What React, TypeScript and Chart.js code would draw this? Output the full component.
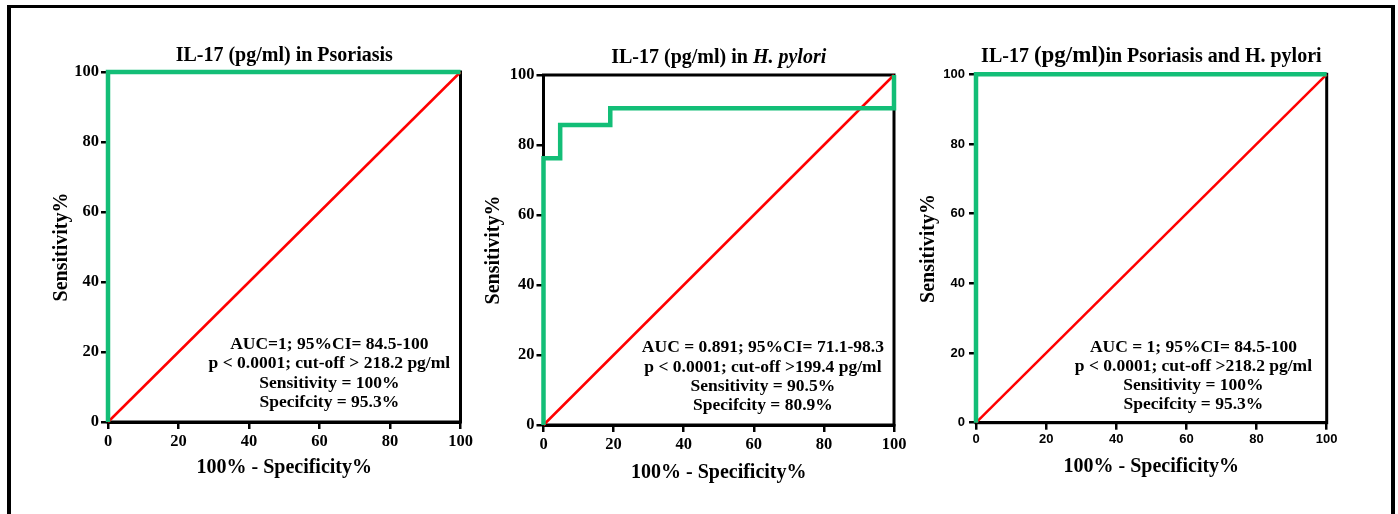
import React, { useEffect, useRef } from "react";
import { Chart, registerables } from "chart.js";

Chart.register(...registerables);

// ---------- data ----------
const AXIS_TICKS = [0, 20, 40, 60, 80, 100];
const CHANCE_X = [0, 100];
const CHANCE_Y = [0, 100];

const PSO_FPR = [0, 0, 100];
const PSO_TPR = [0, 100, 100];

const HP_FPR = [0, 0, 4.76, 4.76, 19.05, 19.05, 100, 100];
const HP_TPR = [0, 76.19, 76.19, 85.71, 85.71, 90.48, 90.48, 100];

const BOTH_FPR = [0, 0, 100];
const BOTH_TPR = [0, 100, 100];

const PSO_STATS = [
  "AUC=1; 95%CI= 84.5-100",
  "p < 0.0001; cut-off > 218.2 pg/ml",
  "Sensitivity = 100%",
  "Specifcity = 95.3%",
];
const HP_STATS = [
  "AUC = 0.891; 95%CI= 71.1-98.3",
  "p < 0.0001; cut-off >199.4 pg/ml",
  "Sensitivity = 90.5%",
  "Specifcity = 80.9%",
];
const BOTH_STATS = [
  "AUC = 1; 95%CI= 84.5-100",
  "p < 0.0001; cut-off >218.2 pg/ml",
  "Sensitivity = 100%",
  "Specifcity = 95.3%",
];

const X_TITLE = "100% - Specificity%";
const Y_TITLE = "Sensitivity%";

const PSO_TITLE = [{ text: "IL-17 (pg/ml) in Psoriasis" }];
const HP_TITLE = [{ text: "IL-17 (pg/ml) in " }, { text: "H. pylori", italic: true }];
const BOTH_TITLE = [
  { text: "IL-17 " },
  { text: "(pg/ml)", size: 23 },
  { text: "in Psoriasis and H. pylori" },
];

// ---------- styles ----------
const SERIF = "'Liberation Serif', 'Times New Roman', serif";
const SANS = "'Liberation Sans', Arial, sans-serif";
const GREEN = "#13BE77";
const RED = "#FF0000";

type Seg = { text: string; italic?: boolean; size?: number };
type Panel = {
  key: string;
  fpr: number[];
  tpr: number[];
  stats: string[];
  title: Seg[];
  canvas: { left: number; top: number; width: number; height: number };
  area: { left: number; top: number; right: number; bottom: number };
  yTitleX: number;
  xTitleY: number;
  tickFamily: string;
  tickSize: number;
  yTickPad: number;
  xTickPad: number;
  statsX: number;
  statsGap: number;
  titleGap: number;
};

const PANELS: Panel[] = [
  {
    key: "pso",
    fpr: PSO_FPR,
    tpr: PSO_TPR,
    stats: PSO_STATS,
    title: PSO_TITLE,
    canvas: { left: 10, top: 20, width: 480, height: 482 },
    area: { left: 108, top: 72, right: 460.5, bottom: 422 },
    yTitleX: 61.7,
    xTitleY: 468,
    tickFamily: SERIF,
    tickSize: 16.5,
    yTickPad: 2,
    xTickPad: 3,
    statsX: 62.8,
    statsGap: 15.3,
    titleGap: 11,
  },
  {
    key: "hp",
    fpr: HP_FPR,
    tpr: HP_TPR,
    stats: HP_STATS,
    title: HP_TITLE,
    canvas: { left: 455, top: 20, width: 460, height: 482 },
    area: { left: 543.5, top: 75, right: 894, bottom: 425 },
    yTitleX: 494,
    xTitleY: 472.5,
    tickFamily: SERIF,
    tickSize: 16.5,
    yTickPad: 2,
    xTickPad: 3,
    statsX: 62.6,
    statsGap: 15,
    titleGap: 12,
  },
  {
    key: "both",
    fpr: BOTH_FPR,
    tpr: BOTH_TPR,
    stats: BOTH_STATS,
    title: BOTH_TITLE,
    canvas: { left: 890, top: 20, width: 460, height: 482 },
    area: { left: 976, top: 74.3, right: 1326.7, bottom: 422.7 },
    yTitleX: 929,
    xTitleY: 466.5,
    tickFamily: SANS,
    tickSize: 13,
    yTickPad: 4,
    xTickPad: 2,
    statsX: 62.0,
    statsGap: 13.4,
    titleGap: 12.3,
  },
];

const TITLE_SIZE = 20;
const STATS_SIZE = 17.5;
const STATS_LINE = 19.2;

function RocPanel({ panel }: { panel: Panel }) {
  const ref = useRef<HTMLCanvasElement | null>(null);

  useEffect(() => {
    const p = panel;
    const c = p.canvas;
    const a = p.area;
    const canvasRight = c.left + c.width;
    const canvasBottom = c.top + c.height;
    const axisTitleLH = TITLE_SIZE * 1.2;

    const decor = {
      id: "rocDecor",
      beforeDatasetsDraw(chart: any) {
        const { ctx, chartArea } = chart;
        ctx.save();
        ctx.strokeStyle = "#000";
        ctx.lineWidth = 3;
        ctx.strokeRect(
          chartArea.left,
          chartArea.top,
          chartArea.right - chartArea.left,
          chartArea.bottom - chartArea.top
        );
        ctx.restore();
      },
      afterDraw(chart: any) {
        const { ctx, chartArea, scales } = chart;
        ctx.save();
        ctx.fillStyle = "#000";
        // title
        const fontOf = (s: Seg) =>
          `${s.italic ? "italic " : ""}bold ${s.size || TITLE_SIZE}px ${SERIF}`;
        let total = 0;
        p.title.forEach((s) => {
          ctx.font = fontOf(s);
          total += ctx.measureText(s.text).width;
        });
        let x = (chartArea.left + chartArea.right) / 2 - total / 2;
        const ty = chartArea.top - p.titleGap;
        ctx.textBaseline = "alphabetic";
        ctx.textAlign = "left";
        p.title.forEach((s) => {
          ctx.font = fontOf(s);
          ctx.fillText(s.text, x, ty);
          x += ctx.measureText(s.text).width;
        });
        // stats annotation
        ctx.textAlign = "center";
        const cx = scales.x.getPixelForValue(p.statsX);
        const lastBase = chartArea.bottom - p.statsGap;
        const n = p.stats.length;
        ctx.font = `bold ${STATS_SIZE}px ${SERIF}`;
        p.stats.forEach((line, i) => {
          ctx.fillText(line, cx, lastBase - (n - 1 - i) * STATS_LINE);
        });
        ctx.restore();
      },
    };

    const tickFont = { family: p.tickFamily, size: p.tickSize, weight: "bold" as const };
    const titleFont = { family: SERIF, size: TITLE_SIZE, weight: "bold" as const, lineHeight: 1.2 };

    const chart = new Chart(ref.current as HTMLCanvasElement, {
      type: "scatter",
      data: {
        datasets: [
          {
            label: "ROC",
            data: p.fpr.map((v, i) => ({ x: v, y: p.tpr[i] })),
            showLine: true,
            borderColor: GREEN,
            backgroundColor: GREEN,
            borderWidth: 4.5,
            pointRadius: 0,
            borderCapStyle: "butt",
            borderJoinStyle: "miter",
            clip: 10,
            order: 0,
          } as any,
          {
            label: "Chance",
            data: CHANCE_X.map((v, i) => ({ x: v, y: CHANCE_Y[i] })),
            showLine: true,
            borderColor: RED,
            backgroundColor: RED,
            borderWidth: 2.5,
            pointRadius: 0,
            clip: 10,
            order: 1,
          } as any,
        ],
      },
      options: {
        responsive: false,
        animation: false,
        devicePixelRatio: 1,
        layout: {
          padding: {
            left: 0,
            bottom: 0,
            top: a.top - c.top,
            right: canvasRight - a.right,
          },
        },
        plugins: {
          legend: { display: false },
          tooltip: { enabled: false },
          title: { display: false },
        },
        scales: {
          x: {
            type: "linear",
            position: "bottom",
            min: 0,
            max: 100,
            afterBuildTicks: (s: any) => {
              s.ticks = AXIS_TICKS.map((v) => ({ value: v }));
            },
            afterFit: (s: any) => {
              s.height = canvasBottom - a.bottom;
            },
            grid: {
              drawOnChartArea: false,
              drawTicks: true,
              tickLength: 7,
              color: "#000",
              lineWidth: 2.5,
            },
            border: { display: true, color: "#000", width: 3 },
            ticks: {
              font: tickFont,
              color: "#000",
              padding: p.xTickPad,
              maxRotation: 0,
            },
            title: {
              display: true,
              text: X_TITLE,
              color: "#000",
              font: titleFont,
              padding: { top: 0, bottom: canvasBottom - p.xTitleY - axisTitleLH / 2 },
            },
          },
          y: {
            type: "linear",
            position: "left",
            min: 0,
            max: 100,
            afterBuildTicks: (s: any) => {
              s.ticks = AXIS_TICKS.map((v) => ({ value: v }));
            },
            afterFit: (s: any) => {
              s.width = a.left - c.left;
            },
            grid: {
              drawOnChartArea: false,
              drawTicks: true,
              tickLength: 7,
              color: "#000",
              lineWidth: 2.5,
            },
            border: { display: true, color: "#000", width: 3 },
            ticks: {
              font: tickFont,
              color: "#000",
              padding: p.yTickPad,
            },
            title: {
              display: true,
              text: Y_TITLE,
              color: "#000",
              font: titleFont,
              padding: { top: p.yTitleX - c.left - axisTitleLH / 2, bottom: 0 },
            },
          },
        },
      } as any,
      plugins: [decor],
    });

    return () => chart.destroy();
  }, [panel]);

  return (
    <canvas
      ref={ref}
      width={panel.canvas.width}
      height={panel.canvas.height}
      style={{
        position: "absolute",
        left: panel.canvas.left,
        top: panel.canvas.top,
        width: panel.canvas.width,
        height: panel.canvas.height,
      }}
    />
  );
}

export default function App() {
  return (
    <div
      style={{
        position: "absolute",
        left: 0,
        top: 0,
        width: 1398,
        height: 514,
        overflow: "hidden",
        background: "#fff",
      }}
    >
      <div
        style={{
          position: "absolute",
          left: 7,
          top: 5,
          width: 1388,
          height: 700,
          borderTop: "3px solid #000",
          borderLeft: "4px solid #000",
          borderRight: "4px solid #000",
          boxSizing: "border-box",
        }}
      />
      {PANELS.map((p) => (
        <RocPanel key={p.key} panel={p} />
      ))}
    </div>
  );
}
